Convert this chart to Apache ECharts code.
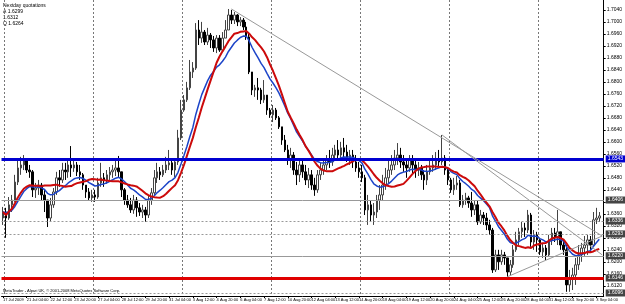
<!DOCTYPE html>
<html>
<head>
<meta charset="utf-8">
<script src="https://cdn.jsdelivr.net/npm/echarts@6/dist/echarts.min.js"></script>
<style>
  html, body { margin: 0; padding: 0; background: #fff; }
  #chart { width: 625px; height: 304px; }
</style>
</head>
<body>
<div id="chart"></div>
<script>
const tickLabels = ["17 Jul 2009", "21 Jul 04:00", "22 Jul 12:00", "23 Jul 20:00", "27 Jul 04:00", "28 Jul 12:00",
  "29 Jul 20:00", "31 Jul 04:00", "3 Aug 12:00", "4 Aug 20:00", "6 Aug 04:00", "7 Aug 12:00", "10 Aug 20:00",
  "12 Aug 04:00", "13 Aug 12:00", "14 Aug 20:00", "18 Aug 04:00", "19 Aug 12:00", "20 Aug 20:00", "24 Aug 04:00",
  "25 Aug 12:00", "26 Aug 20:00", "28 Aug 04:00", "31 Aug 12:00", "1 Sep 20:00", "3 Sep 04:00"];

const priceLabels = [1.7040, 1.7000, 1.6960, 1.6920, 1.6880, 1.6840, 1.6800, 1.6760, 1.6720, 1.6680, 1.6640,
  1.6600, 1.6560, 1.6520, 1.6480, 1.6440, 1.6400, 1.6360, 1.6320, 1.6280, 1.6240, 1.6200, 1.6160, 1.6120];

const opens = [1.6346,1.6366,1.6346,1.6390,1.6406,1.6466,1.6513,1.6523,1.6540,1.6506,
  1.6500,1.6440,1.6446,1.6456,1.6423,1.6406,1.6346,1.6390,1.6433,1.6480,
  1.6473,1.6506,1.6500,1.6523,1.6513,1.6523,1.6500,1.6490,1.6456,1.6433,
  1.6413,1.6423,1.6416,1.6463,1.6480,1.6473,1.6490,1.6500,1.6506,1.6513,
  1.6500,1.6440,1.6406,1.6390,1.6373,1.6406,1.6380,1.6366,1.6373,1.6356,
  1.6406,1.6430,1.6480,1.6500,1.6490,1.6506,1.6523,1.6530,1.6506,1.6533,
  1.6613,1.6706,1.6740,1.6780,1.6833,1.6846,1.6973,1.6946,1.6966,1.6933,
  1.6956,1.6940,1.6913,1.6946,1.6906,1.6946,1.6973,1.7023,1.7006,1.7023,
  1.7000,1.7006,1.6983,1.6950,1.6833,1.6773,1.6780,1.6773,1.6740,1.6756,
  1.6706,1.6690,1.6706,1.6680,1.6650,1.6606,1.6573,1.6540,1.6556,1.6506,
  1.6490,1.6523,1.6500,1.6473,1.6490,1.6456,1.6440,1.6490,1.6506,1.6523,
  1.6540,1.6533,1.6556,1.6573,1.6556,1.6580,1.6566,1.6546,1.6556,1.6533,
  1.6513,1.6500,1.6480,1.6373,1.6390,1.6356,1.6366,1.6406,1.6423,1.6456,
  1.6480,1.6506,1.6523,1.6546,1.6556,1.6533,1.6523,1.6513,1.6540,1.6523,
  1.6506,1.6513,1.6490,1.6473,1.6500,1.6513,1.6523,1.6540,1.6533,1.6546,
  1.6506,1.6473,1.6440,1.6456,1.6463,1.6390,1.6406,1.6413,1.6396,1.6373,
  1.6390,1.6333,1.6356,1.6346,1.6323,1.6306,1.6173,1.6223,1.6200,1.6223,
  1.6213,1.6166,1.6190,1.6240,1.6273,1.6300,1.6313,1.6306,1.6356,1.6266,
  1.6290,1.6273,1.6233,1.6246,1.6223,1.6273,1.6296,1.6280,1.6300,1.6256,
  1.6240,1.6123,1.6146,1.6156,1.6190,1.6223,1.6246,1.6256,1.6273,1.6256,
  1.6340,1.6346];

const closes = [1.6366,1.6346,1.6390,1.6406,1.6466,1.6513,1.6523,1.6540,1.6506,1.6500,
  1.6440,1.6446,1.6456,1.6423,1.6406,1.6346,1.6390,1.6433,1.6480,1.6473,
  1.6506,1.6500,1.6523,1.6513,1.6523,1.6500,1.6490,1.6456,1.6433,1.6413,
  1.6423,1.6416,1.6463,1.6480,1.6473,1.6490,1.6500,1.6506,1.6513,1.6500,
  1.6440,1.6406,1.6390,1.6373,1.6406,1.6380,1.6366,1.6373,1.6356,1.6406,
  1.6430,1.6480,1.6500,1.6490,1.6506,1.6523,1.6530,1.6506,1.6533,1.6613,
  1.6706,1.6740,1.6780,1.6833,1.6846,1.6973,1.6946,1.6966,1.6933,1.6956,
  1.6940,1.6913,1.6946,1.6906,1.6946,1.6973,1.7023,1.7006,1.7023,1.7000,
  1.7006,1.6983,1.6950,1.6833,1.6773,1.6780,1.6773,1.6740,1.6756,1.6706,
  1.6690,1.6706,1.6680,1.6650,1.6606,1.6573,1.6540,1.6556,1.6506,1.6490,
  1.6523,1.6500,1.6473,1.6490,1.6456,1.6440,1.6490,1.6506,1.6523,1.6540,
  1.6533,1.6556,1.6573,1.6556,1.6580,1.6566,1.6546,1.6556,1.6533,1.6513,
  1.6500,1.6480,1.6373,1.6390,1.6356,1.6366,1.6406,1.6423,1.6456,1.6480,
  1.6506,1.6523,1.6546,1.6556,1.6533,1.6523,1.6513,1.6540,1.6523,1.6506,
  1.6513,1.6490,1.6473,1.6500,1.6513,1.6523,1.6540,1.6533,1.6546,1.6506,
  1.6473,1.6440,1.6456,1.6463,1.6390,1.6406,1.6413,1.6396,1.6373,1.6390,
  1.6333,1.6356,1.6346,1.6323,1.6306,1.6173,1.6223,1.6200,1.6223,1.6213,
  1.6166,1.6190,1.6240,1.6273,1.6300,1.6313,1.6306,1.6356,1.6266,1.6290,
  1.6273,1.6233,1.6246,1.6223,1.6273,1.6296,1.6280,1.6300,1.6256,1.6240,
  1.6123,1.6146,1.6156,1.6190,1.6223,1.6246,1.6256,1.6273,1.6256,1.6340,
  1.6346,1.6353];

const highs = [1.6383,1.6380,1.6416,1.6423,1.6490,1.6540,1.6550,1.6556,1.6540,1.6523,
  1.6506,1.6463,1.6473,1.6463,1.6440,1.6406,1.6413,1.6446,1.6500,1.6506,
  1.6530,1.6530,1.6546,1.6586,1.6540,1.6533,1.6523,1.6496,1.6456,1.6446,
  1.6440,1.6440,1.6480,1.6530,1.6496,1.6506,1.6516,1.6523,1.6540,1.6553,
  1.6500,1.6446,1.6423,1.6413,1.6423,1.6416,1.6396,1.6390,1.6383,1.6423,
  1.6446,1.6506,1.6530,1.6516,1.6523,1.6550,1.6573,1.6540,1.6546,1.6640,
  1.6740,1.6756,1.6800,1.6873,1.6866,1.6996,1.7006,1.7000,1.6973,1.6980,
  1.6963,1.6953,1.6956,1.6956,1.6966,1.7006,1.7043,1.7040,1.7033,1.7026,
  1.7016,1.7013,1.7000,1.6963,1.6833,1.6790,1.6813,1.6780,1.6806,1.6756,
  1.6713,1.6723,1.6713,1.6686,1.6650,1.6623,1.6590,1.6580,1.6566,1.6533,
  1.6540,1.6540,1.6523,1.6513,1.6506,1.6480,1.6506,1.6530,1.6546,1.6556,
  1.6573,1.6580,1.6590,1.6606,1.6600,1.6613,1.6590,1.6573,1.6573,1.6556,
  1.6533,1.6523,1.6490,1.6423,1.6406,1.6396,1.6423,1.6456,1.6490,1.6513,
  1.6540,1.6556,1.6573,1.6596,1.6580,1.6556,1.6540,1.6556,1.6556,1.6540,
  1.6533,1.6523,1.6506,1.6523,1.6540,1.6556,1.6566,1.6573,1.6623,1.6556,
  1.6513,1.6480,1.6480,1.6486,1.6473,1.6423,1.6430,1.6420,1.6433,1.6406,
  1.6406,1.6373,1.6366,1.6363,1.6340,1.6313,1.6240,1.6240,1.6240,1.6233,
  1.6213,1.6206,1.6256,1.6300,1.6313,1.6333,1.6330,1.6373,1.6363,1.6306,
  1.6300,1.6280,1.6263,1.6256,1.6290,1.6313,1.6313,1.6373,1.6300,1.6273,
  1.6256,1.6173,1.6180,1.6213,1.6256,1.6263,1.6286,1.6290,1.6286,1.6366,
  1.6380,1.6366];

const lows = [1.6323,1.6280,1.6340,1.6366,1.6400,1.6456,1.6490,1.6506,1.6496,1.6480,
  1.6416,1.6413,1.6423,1.6406,1.6366,1.6316,1.6333,1.6380,1.6423,1.6450,
  1.6463,1.6473,1.6480,1.6483,1.6500,1.6486,1.6473,1.6440,1.6413,1.6406,
  1.6400,1.6400,1.6410,1.6450,1.6450,1.6460,1.6473,1.6480,1.6486,1.6480,
  1.6416,1.6390,1.6380,1.6363,1.6360,1.6350,1.6353,1.6346,1.6333,1.6346,
  1.6390,1.6423,1.6463,1.6473,1.6483,1.6496,1.6506,1.6490,1.6483,1.6523,
  1.6606,1.6700,1.6733,1.6773,1.6813,1.6840,1.6923,1.6930,1.6923,1.6923,
  1.6913,1.6900,1.6896,1.6900,1.6900,1.6946,1.6973,1.6993,1.6993,1.6986,
  1.6986,1.6973,1.6940,1.6826,1.6756,1.6750,1.6740,1.6726,1.6730,1.6690,
  1.6680,1.6666,1.6673,1.6643,1.6590,1.6566,1.6523,1.6513,1.6490,1.6456,
  1.6466,1.6480,1.6456,1.6446,1.6440,1.6420,1.6430,1.6473,1.6490,1.6506,
  1.6513,1.6520,1.6540,1.6540,1.6546,1.6546,1.6533,1.6523,1.6513,1.6500,
  1.6480,1.6466,1.6356,1.6323,1.6333,1.6323,1.6346,1.6373,1.6406,1.6440,
  1.6463,1.6490,1.6506,1.6523,1.6513,1.6500,1.6480,1.6500,1.6490,1.6480,
  1.6486,1.6473,1.6440,1.6456,1.6490,1.6500,1.6506,1.6513,1.6523,1.6490,
  1.6456,1.6430,1.6423,1.6440,1.6383,1.6380,1.6390,1.6380,1.6350,1.6356,
  1.6323,1.6326,1.6323,1.6306,1.6290,1.6163,1.6166,1.6173,1.6190,1.6190,
  1.6150,1.6156,1.6180,1.6233,1.6256,1.6280,1.6283,1.6296,1.6250,1.6240,
  1.6233,1.6223,1.6213,1.6206,1.6216,1.6256,1.6266,1.6256,1.6240,1.6223,
  1.6100,1.6100,1.6106,1.6123,1.6173,1.6200,1.6220,1.6223,1.6233,1.6253,
  1.6326,1.6333];

// horizontal levels drawn on the chart
const blueLevel = 1.6543;
const redLevel = 1.6146;
const pivotLevels = [
  { name: "Resistance 3", value: 1.6406, style: "solid" },
  { name: "R2 go up R3 or down R1", value: 1.6336, style: "dotted" },
  { name: "R1 go R2 or down P", value: 1.6293, style: "dotted" },
  { name: "P go R1 or down S1", value: 1.6220, style: "solid" },
  { name: "S2 go down S3 or up S1", value: 1.6096, style: "dotted" },
];
// trend lines: [bar, price] pairs
const trendLines = [
  [[77, 1.7043], [202, 1.6286]],
  [[148, 1.6623], [202, 1.6223]],
  [[170, 1.6150], [202, 1.6286]],
];

function ema(values, period) {
  const k = 2 / (period + 1);
  let prev = values[0];
  return values.map((v) => (prev = prev + k * (v - prev)));
}

function sma(values, period) {
  return values.map((_, i) => {
    const from = Math.max(0, i - period + 1);
    const slice = values.slice(from, i + 1);
    return slice.reduce((a, b) => a + b, 0) / slice.length;
  });
}

const categories = closes.map((_, i) => i).concat([closes.length]);
const candles = closes.map((c, i) => [opens[i], c, lows[i], highs[i]]);
const fastMa = ema(closes, 14);
const slowMa = sma(closes, 14);

const chart = echarts.init(document.getElementById("chart"));
const font = "Liberation Sans, Arial, sans-serif";
const narrow = "Liberation Sans Narrow, Liberation Sans, sans-serif";

const levelLabel = (bg) => ({
  show: true,
  position: "end",
  distance: 2,
  formatter: (p) => Number(p.value).toFixed(4),
  fontSize: 5,
  fontFamily: font,
  color: "#fff",
  backgroundColor: bg,
  padding: [1, 2],
});

chart.setOption({
  animation: false,
  backgroundColor: "#fff",
  grid: { left: 0, right: 17, top: 0, bottom: 8 },
  xAxis: {
    type: "category",
    data: categories,
    boundaryGap: true,
    axisLine: { lineStyle: { color: "#000", width: 1 } },
    axisTick: { show: true, length: 2, interval: (i) => i % 8 === 0, alignWithLabel: true, lineStyle: { color: "#000" } },
    axisLabel: {
      interval: (i) => i % 8 === 0,
      formatter: (v) => tickLabels[v / 8] || "",
      showMinLabel: true,
      hideOverlap: false,
      align: "left",
      fontSize: 4,
      fontFamily: narrow,
      color: "#000",
      margin: 2,
    },
    splitLine: {
      show: true,
      interval: (i) => i % 30 === 1,
      lineStyle: { color: "#777", type: [2, 2], width: 1 },
    },
  },
  yAxis: {
    type: "value",
    position: "right",
    min: 1.6086,
    max: 1.7073,
    splitLine: { show: false },
    axisLine: { show: true, lineStyle: { color: "#000" } },
    axisTick: { show: true, length: 2, customValues: priceLabels, lineStyle: { color: "#000" } },
    axisLabel: {
      customValues: priceLabels,
      formatter: (v) => v.toFixed(4),
      fontSize: 5,
      fontFamily: font,
      color: "#000",
      margin: 3,
    },
  },
  graphic: [
    { type: "text", left: 3, top: 3, style: { text: "Nextday quotations", fontSize: 5, fontFamily: font, fill: "#000" } },
    { type: "text", left: 3, top: 9, style: { text: "A 1.6299", fontSize: 5, fontFamily: font, fill: "#000" } },
    { type: "text", left: 3, top: 15, style: { text: "1.6312", fontSize: 5, fontFamily: font, fill: "#000" } },
    { type: "text", left: 3, top: 21, style: { text: "Q 1.6264", fontSize: 5, fontFamily: font, fill: "#000" } },
    { type: "text", left: 3, top: 289, style: { text: "MetaTrader - Alpari UK, \u00a9 2001-2008 MetaQuotes Software Corp.", fontSize: 4, fontFamily: font, fill: "#000" } },
  ],
  series: [
    {
      name: "GBPUSD,H4",
      type: "candlestick",
      data: candles,
      barWidth: 2,
      itemStyle: { color: "#fff", color0: "#000", borderColor: "#444", borderColor0: "#000", borderWidth: 1 },
      markLine: {
        silent: true,
        symbol: "none",
        precision: 4,
        data: [
          ...pivotLevels.map((lv) => ({
            yAxis: lv.value,
            lineStyle: { color: "#999", width: 1, type: lv.style === "solid" ? "solid" : [2, 2] },
            label: { ...levelLabel("#444") },
          })),
          ...pivotLevels.map((lv) => ({
            yAxis: lv.value,
            lineStyle: { opacity: 0 },
            label: { show: true, position: "insideEndTop", distance: [40, 1], formatter: lv.name, fontSize: 4, fontFamily: font, color: "#777" },
          })),
          { yAxis: blueLevel, lineStyle: { color: "#0000d0", width: 3, type: "solid" }, label: levelLabel("#0000d0") },
          { yAxis: redLevel, lineStyle: { color: "#e00000", width: 3, type: "solid" }, label: levelLabel("#444") },
          ...trendLines.map(([a, b]) => [
            { coord: a, lineStyle: { color: "#999", width: 1, type: "solid" }, label: { show: false } },
            { coord: b },
          ]),
        ],
      },
    },
    {
      name: "MA fast",
      type: "line",
      data: fastMa,
      showSymbol: false,
      lineStyle: { color: "#1c44c8", width: 1.5 },
    },
    {
      name: "MA slow",
      type: "line",
      data: slowMa,
      showSymbol: false,
      lineStyle: { color: "#cc0a0a", width: 2 },
    },
  ],
});
</script>
</body>
</html>
